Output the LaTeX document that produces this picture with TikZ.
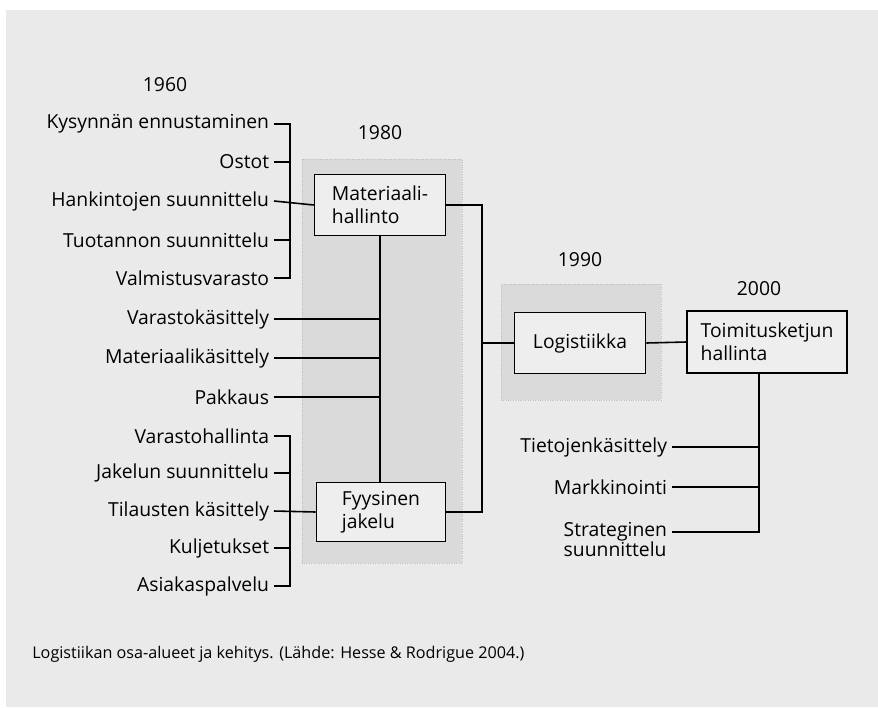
\documentclass[tikz,border=0pt]{standalone}
\usepackage{fontspec}
\setmainfont{Open Sans}
\definecolor{paper}{HTML}{EAEAEA}
\definecolor{shade}{HTML}{DADADA}
\definecolor{boxfill}{HTML}{EEEEEE}
\tikzset{
  lab/.style={font=\fontsize{11}{13}\selectfont, inner ysep=0pt, inner xsep=2.6pt},
  yearlab/.style={font=\fontsize{11}{13}\selectfont, inner sep=0pt},
  stage/.style={draw, line width=0.9pt, fill=boxfill, align=left, font=\fontsize{11}{13}\selectfont},
  era/.style={fill=shade, draw=black!25, densely dotted, line width=0.4pt},
  link/.style={line width=0.9pt}
}
\begin{document}
\begin{tikzpicture}[x=0.02cm, y=-0.02cm]
    % tausta
    \useasboundingbox (0,0) rectangle (878,707);
    \fill[white] (0,0) rectangle (878,707);
    \fill[paper] (6,10) rectangle (878,707);
    \path[era] (302,159) rectangle (462,563);
    \path[era] (501,284) rectangle (661,400);
    % vuodet
    \node[yearlab] (y60) at (165,85) {1960};
    \node[yearlab] (y80) at (380,133) {1980};
    \node[yearlab] (y90) at (580,260) {1990};
    \node[yearlab] (y00) at (759,289) {2000};
    % laatikot
    \node[stage, minimum width=2.62cm, minimum height=1.22cm] (mat) at (380,205) {Materiaali-\\hallinto};
    \node[stage, minimum width=2.58cm, minimum height=1.18cm] (fyy) at (381,512) {Fyysinen\\jakelu};
    \node[stage, minimum width=2.62cm, minimum height=1.22cm] (log) at (580,343) {Logistiikka};
    \node[stage, minimum width=3.2cm, minimum height=1.24cm] (toi) at (767,342) {Toimitusketjun\\hallinta};
    % 1960-luvun osa-alueet
    \foreach \name/\y/\txt in {k1/124/Kysynnän ennustaminen, k2/162/Ostot,
        k3/201/Hankintojen suunnittelu, k4/240/Tuotannon suunnittelu,
        k5/278/Valmistusvarasto, k6/319/Varastokäsittely,
        k7/358/Materiaalikäsittely, k8/397/Pakkaus,
        k9/436/Varastohallinta, k10/473/Jakelun suunnittelu,
        k11/511/Tilausten käsittely, k12/548/Kuljetukset,
        k13/586/Asiakaspalvelu}
      \node[lab, anchor=east] (\name) at (274,\y) {\txt};
    \coordinate (b60) at (290,0);
    \coordinate (j80) at (482,0);
    \coordinate (j00) at (759,0);
    % hakasulkeet
    \draw[link] (k1.east) -- (k1.east -| b60) -- (k5.east -| b60) -- (k5.east);
    \draw[link] (k9.east) -- (k9.east -| b60) -- (k13.east -| b60) -- (k13.east);
    \foreach \k in {k2,k4,k10,k12}
      \draw[link] (\k.east) -- (\k.east -| b60);
    \draw[link] (k3.east) -- (mat.west);
    \draw[link] (k11.east) -- (fyy.west);
    % materiaali -> fyysinen
    \draw[link] (mat.south) -- (mat.south |- fyy.north);
    \foreach \k in {k6,k7,k8}
      \draw[link] (\k.east) -- (\k.east -| mat.south);
    % logistiikka
    \draw[link] (mat.east) -- (mat.east -| j80) -- (fyy.east -| j80) -- (fyy.east);
    \draw[link] (log.west) -- (log.west -| j80);
    \draw[link] (log.east) -- (toi.west);
    % 2000-luvun osa-alueet
    \node[lab, anchor=east] (t1) at (672,447) {Tietojenkäsittely};
    \node[lab, anchor=east] (t2) at (672,487) {Markkinointi};
    \node[lab, anchor=east] (t3) at (672,532) {Strateginen};
    \node[lab, anchor=north west] (t4) at (t3.south west) {suunnittelu};
    \draw[link] (toi.south -| j00) -- (t3.east -| j00) -- (t3.east);
    \foreach \k in {t1,t2}
      \draw[link] (\k.east) -- (\k.east -| j00);
    % kuvateksti
    \node[anchor=west, inner sep=0pt, font=\fontsize{9.2}{11}\selectfont] (cap) at (32,654) {Logistiikan osa-alueet ja kehitys. (Lähde: Hesse \& Rodrigue 2004.)};
\end{tikzpicture}
\end{document}
